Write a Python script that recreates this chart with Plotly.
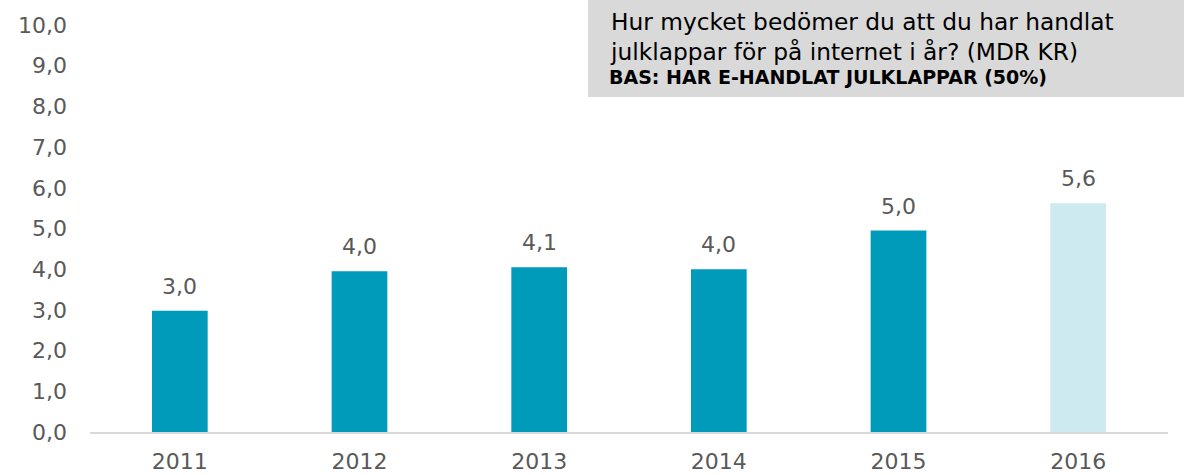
import plotly.graph_objects as go

years = ["2011", "2012", "2013", "2014", "2015", "2016"]
values = [2.98, 3.95, 4.05, 4.0, 4.95, 5.62]
labels = ["3,0", "4,0", "4,1", "4,0", "5,0", "5,6"]
colors = ["#009ABB", "#009ABB", "#009ABB", "#009ABB", "#009ABB", "#CDEAF0"]
y_ticks = [0, 1, 2, 3, 4, 5, 6, 7, 8, 9, 10]
y_ticktext = ["0,0", "1,0", "2,0", "3,0", "4,0", "5,0", "6,0", "7,0", "8,0", "9,0", "10,0"]

title_l1 = "Hur mycket bedömer du att du har handlat"
title_l2 = "julklappar för på internet i år? (MDR KR)"
title_l3 = "BAS: HAR E-HANDLAT JULKLAPPAR (50%)"

FONT = "DejaVu Sans"
GREY = "#595959"

L, R, T, B = 90, 16, 25, 43
W, H = 1184, 475
PW, PH = W - L - R, H - T - B


def to_px(x):
    return (x - L) / PW


def to_py(y):
    return (H - B - y) / PH


fig = go.Figure()
fig.add_trace(go.Bar(
    x=years, y=values, marker=dict(color=colors, line=dict(width=0)),
    hoverinfo="skip", showlegend=False,
))

for i, (v, t) in enumerate(zip(values, labels)):
    fig.add_annotation(x=i, y=v, text=t, showarrow=False, yanchor="bottom",
                       yshift=10, font=dict(family=FONT, size=22, color=GREY))

fig.add_shape(type="rect", xref="paper", yref="paper", x0=to_px(588), x1=to_px(1190),
              y0=to_py(97), y1=to_py(-5), fillcolor="#D9D9D9", line=dict(width=0),
              layer="below")

fig.add_annotation(xref="paper", yref="paper", x=to_px(608), y=to_py(6),
                   xanchor="left", yanchor="top", showarrow=False, align="left",
                   text=title_l1 + "<br>" + title_l2,
                   font=dict(family="DejaVu Sans", size=23.3, color="#000000"))
fig.add_annotation(xref="paper", yref="paper", x=to_px(607), y=to_py(64),
                   xanchor="left", yanchor="top", showarrow=False, align="left",
                   text="<b>" + title_l3 + "</b>",
                   font=dict(family="DejaVu Sans", size=19, color="#000000"))

fig.update_layout(
    width=W, height=H,
    margin=dict(l=L, r=R, t=T, b=B, autoexpand=False),
    plot_bgcolor="white", paper_bgcolor="white",
    bargap=0.69,
    font=dict(family=FONT, size=22, color=GREY),
    xaxis=dict(type="category", range=[-0.5, len(years) - 0.5], autorange=False,
               showgrid=False, showline=True, linecolor="#D9D9D9",
               linewidth=2, ticks="", ticklabelstandoff=9,
               tickfont=dict(family=FONT, size=22, color=GREY), fixedrange=True),
    yaxis=dict(range=[0, 10], autorange=False, tickvals=y_ticks, ticktext=y_ticktext,
               showgrid=False, showline=False, zeroline=False, ticks="",
               ticklabelstandoff=22, tickfont=dict(family=FONT, size=22, color=GREY),
               fixedrange=True),
)

fig.write_html("out.html", config={"displayModeBar": False},
               post_script="document.body.style.margin='0';")
